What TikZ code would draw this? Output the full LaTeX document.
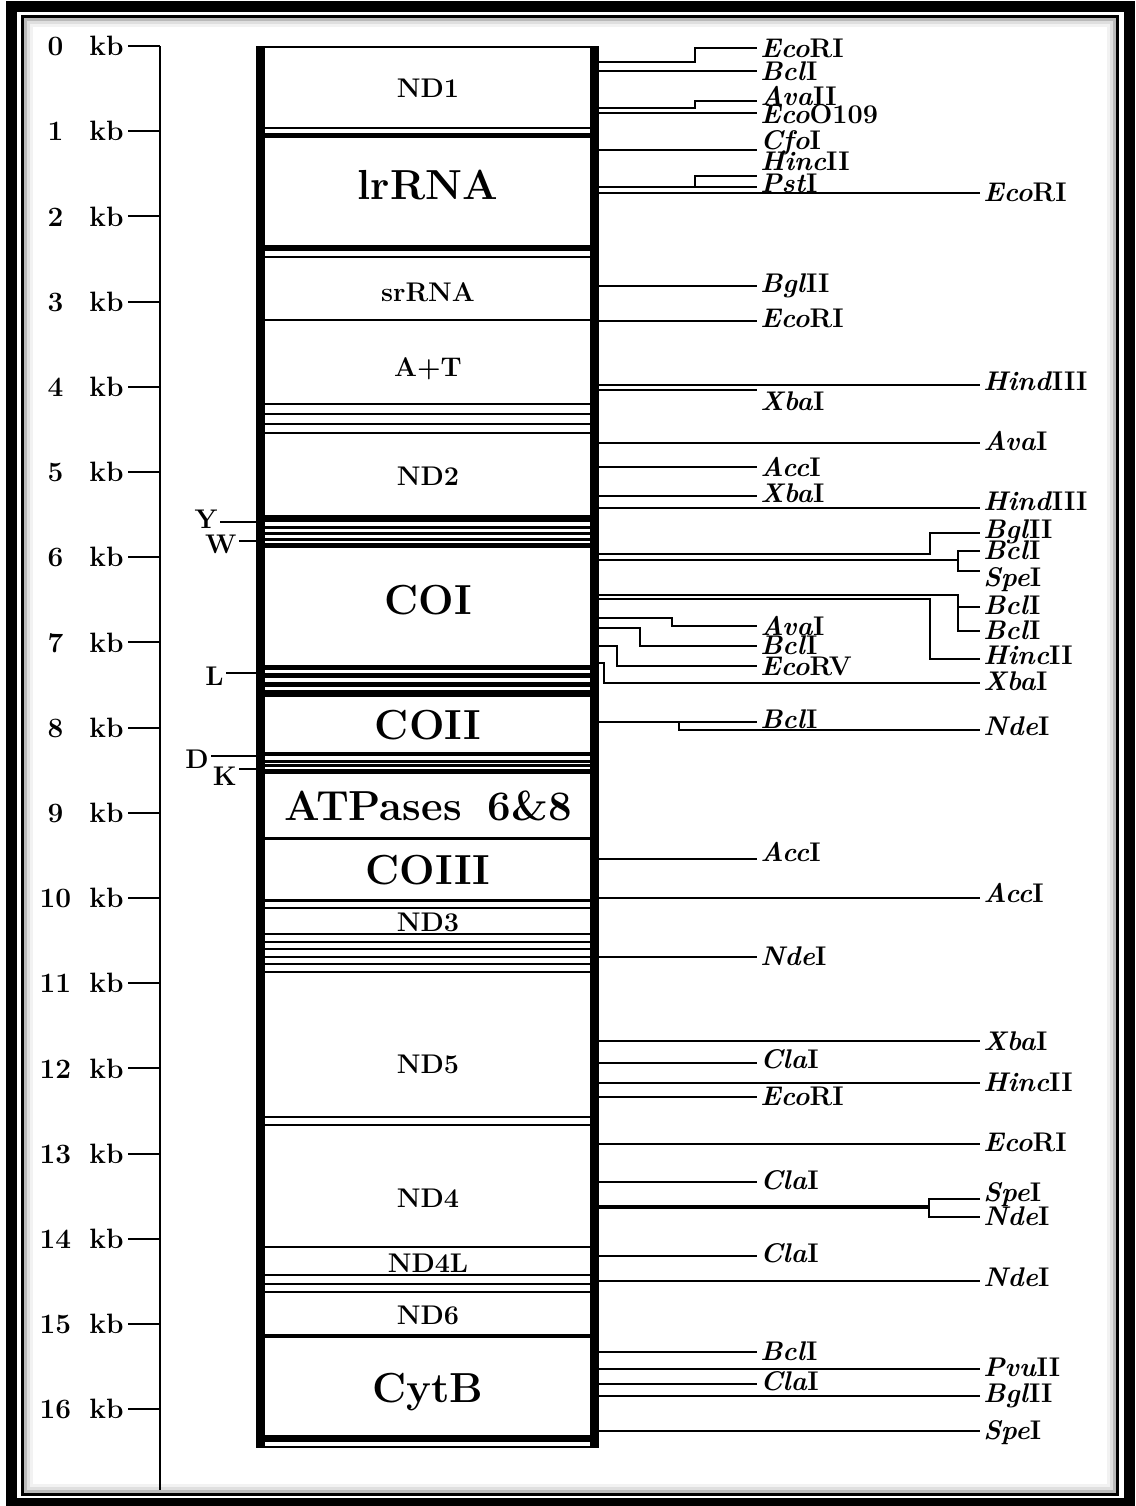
\documentclass[tikz,border=0pt]{standalone}
\usepackage{tikz}

\newcommand{\enz}[2]{\textit{#1}#2}

\tikzset{
  gene/.style={inner sep=0pt, text depth=0pt, font=\fontsize{13.5}{16}\selectfont\bfseries},
  genebig/.style={inner sep=0pt, text depth=0pt, font=\fontsize{21}{25}\selectfont\bfseries},
  trna/.style={anchor=east, inner sep=1pt, text depth=0pt, font=\fontsize{13.5}{16}\selectfont\bfseries},
  enz/.style={anchor=west, inner sep=1.5pt, text depth=0pt, font=\fontsize{13.5}{16}\selectfont\bfseries},
  kblab/.style={anchor=east, inner sep=2pt, text depth=0pt, font=\fontsize{14}{16}\selectfont\bfseries},
  site/.style={line width=1pt},
}

\begin{document}
\begin{tikzpicture}[x=0.5pt,y=-0.5pt]
\useasboundingbox (0,0) rectangle (1136,1506);
\fill[white] (0,0) rectangle (1136,1506);

% frame
\draw[line width=5.5pt] (11,6) rectangle (1129,1503);
\draw[line width=1.5pt] (22,16) rectangle (1117.5,1494.5);
\draw[gray!55,line width=1.5pt] (25,19) rectangle (1114.5,1491.5);
\draw[gray!25,line width=1.5pt] (28,22) rectangle (1111.5,1488.5);
\draw[gray!10,line width=1.5pt] (31,25) rectangle (1108.5,1485.5);

% kb scale
\draw[line width=1pt] (160,46) -- (160,1490);
\foreach \k in {0,...,16}{
  \pgfmathsetmacro{\ky}{46+85.2*\k}
  \node[kblab] (kb\k) at (128,\ky) {\makebox[18pt][c]{\k}\hspace{8pt}kb};
  \draw[line width=1pt] (kb\k.east) -- (160,\ky);
}

% gene boundaries
\foreach \y/\w in {47/1, 128/1, 135.5/2.5, 248/3, 257/1, 320/1,
    404/1, 414/1, 424/1, 433/1,
    518/3.5, 527/1.5, 533/1.5, 539/1.5, 545.5/2.5,
    667.5/2.5, 675.5/2.5, 684.5/2.5, 693.5/3.5,
    754/2, 761/1.5, 765.5/1.5, 771/2.5,
    838/1.5, 900.5/1.25, 908/1,
    934/1, 942/1, 949/1, 957/1, 964/1, 972/1,
    1117/1, 1125/1, 1247/1, 1275/1, 1284/1, 1292/1,
    1336/1.75, 1438.5/3.5, 1447/1}
  \draw[line width=\w pt] (256,\y) -- (599,\y);
\draw[line width=4.5pt] (260.5,46) -- (260.5,1448);
\draw[line width=4.5pt] (594.5,46) -- (594.5,1448);

% genes
\node[gene] (nd1) at (428,88) {ND1};
\node[genebig] (lrrna) at (428,185) {lrRNA};
\node[gene] (srrna) at (428,292) {srRNA};
\node[gene] (atrich) at (428,367) {A+T};
\node[gene] (nd2) at (428,476) {ND2};
\node[genebig] (coi) at (428,600) {COI};
\node[genebig] (coii) at (428,725) {COII};
\node[genebig] (atp) at (428,806) {ATPases\hspace{13pt}6\&8};
\node[genebig] (coiii) at (428,870) {COIII};
\node[gene] (nd3) at (428,922) {ND3};
\node[gene] (nd5) at (428,1064) {ND5};
\node[gene] (nd4) at (428,1198) {ND4};
\node[gene] (nd4l) at (428,1263) {ND4L};
\node[gene] (nd6) at (428,1315) {ND6};
\node[genebig] (cytb) at (428,1388) {CytB};

% tRNAs
\coordinate (tY) at (256,522);
\coordinate (tW) at (256,541);
\coordinate (tL) at (256,673);
\coordinate (tD) at (256,756);
\coordinate (tK) at (256,769);
\node[trna] (trnY) at (220,519) {Y};
\node[trna] (trnW) at (239,544) {W};
\node[trna] (trnL) at (226,676) {L};
\node[trna] (trnD) at (211,759) {D};
\node[trna] (trnK) at (239,776) {K};
\foreach \t in {Y,W,L,D,K}
  \draw[site] (t\t) -- (t\t -| trn\t.east);

% restriction sites, straight
\foreach \nm/\ly/\ty/\xe/\gn/\rn in {
    bclA/71/71/757/Bcl/I, ecoO/113/114/757/Eco/O109,
    ecoB/193/192/980/Eco/RI, bglA/286/283/757/Bgl/II,
    ecoC/321/318/757/Eco/RI, hindA/385/381/980/Hind/III,
    xbaA/390/401/757/Xba/I, avaA/443/441/980/Ava/I,
    accA/467/467/757/Acc/I, xbaB/496/493/757/Xba/I,
    hindB/508/501/980/Hind/III, bclH/722/719/757/Bcl/I,
    accB/859/852/757/Acc/I, accC/898/893/980/Acc/I,
    ndeB/957/956/757/Nde/I, xbaD/1041/1041/980/Xba/I,
    claA/1063/1059/757/Cla/I, hincC/1083/1082/980/Hinc/II,
    ecoD/1097/1096/757/Eco/RI, ecoE/1144/1142/980/Eco/RI,
    claB/1182/1180/757/Cla/I, claC/1256/1253/757/Cla/I,
    ndeE/1281/1277/980/Nde/I, bclJ/1352/1351/757/Bcl/I,
    pvu/1369/1367/980/Pvu/II, claD/1384/1381/757/Cla/I,
    bglD/1396/1393/980/Bgl/II, speC/1431/1430/980/Spe/I}
{
  \coordinate (s-\nm) at (599,\ly);
  \node[enz] (\nm) at (\xe,\ty) {\enz{\gn}{\rn}};
  \draw[site] (s-\nm) -- (s-\nm -| \nm.west);
}

% restriction sites, stepped
\node[enz] (ecoA) at (757,48) {\enz{Eco}{RI}};
\draw[site] (599,62) -| (695,48) -- (ecoA.west);
\node[enz] (avaB) at (757,96) {\enz{Ava}{II}};
\draw[site] (599,108) -| (695,101) -- ++(62,0);
\node[enz] (cfo) at (757,140) {\enz{Cfo}{I}};
\node[enz] (hincA) at (757,161) {\enz{Hinc}{II}};
\draw[site] (599,150) -- (cfo.west |- 0,150);
\node[enz] (pst) at (757,183) {\enz{Pst}{I}};
\draw[site] (599,187) -- (pst.west |- 0,187);
\draw[site] (695,187) |- (pst.west |- 0,176);

\node[enz] (bglB) at (980,529) {\enz{Bgl}{II}};
\draw[site] (599,554) -| (930,533) -- ++(50,0);
\node[enz] (bclB) at (980,550) {\enz{Bcl}{I}};
\node[enz] (speA) at (980,577) {\enz{Spe}{I}};
\draw[site] (599,560) -- (958,560);
\draw[site] (bclB.west |- 0,551) -| (958,571) -- (speA.west |- 0,571);
\node[enz] (bclC) at (980,605) {\enz{Bcl}{I}};
\node[enz] (bclD) at (980,630) {\enz{Bcl}{I}};
\draw[site] (599,595) -| (958,631) -- (bclD.west |- 0,631);
\draw[site] (958,607) -- (bclC.west |- 0,607);
\node[enz] (hincB) at (980,655) {\enz{Hinc}{II}};
\draw[site] (599,599) -| (930,659) -- (hincB.west |- 0,659);
\node[enz] (avaC) at (757,626) {\enz{Ava}{I}};
\draw[site] (599,618) -| (672,626) -- (avaC.west |- 0,626);
\node[enz] (bclE) at (757,645) {\enz{Bcl}{I}};
\draw[site] (599,628) -| (640,646) -- (bclE.west |- 0,646);
\node[enz] (ecorv) at (757,666) {\enz{Eco}{RV}};
\draw[site] (599,646) -| (617,666) -- (ecorv.west);
\node[enz] (xbaC) at (980,681) {\enz{Xba}{I}};
\draw[site] (599,663) -| (604,683) -- (xbaC.west |- 0,683);
\node[enz] (ndeA) at (980,726) {\enz{Nde}{I}};
\draw[site] (679,722) |- (ndeA.west |- 0,730);

\node[enz] (speB) at (980,1192) {\enz{Spe}{I}};
\node[enz] (ndeC) at (980,1216) {\enz{Nde}{I}};
\draw[line width=2pt] (599,1207) -- (929,1207);
\draw[site] (speB.west |- 0,1199) -| (929,1217) -- (ndeC.west |- 0,1217);

\end{tikzpicture}
\end{document}
